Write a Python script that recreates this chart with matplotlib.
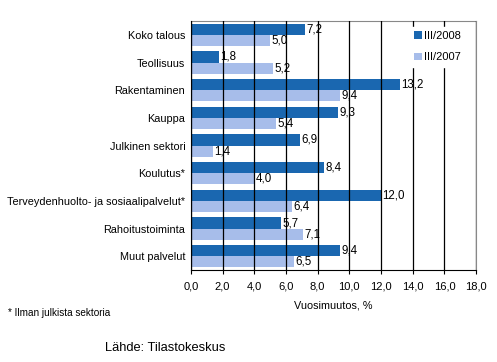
import numpy as np
import matplotlib.pyplot as plt
from matplotlib.patches import Patch

plt.rcParams['font.family'] = ['Liberation Sans', 'DejaVu Sans']

categories = ["Koko talous", "Teollisuus", "Rakentaminen", "Kauppa", "Julkinen sektori",
              "Koulutus*", "Terveydenhuolto- ja sosiaalipalvelut*", "Rahoitustoiminta", "Muut palvelut"]
v2008 = [7.2, 1.8, 13.2, 9.3, 6.9, 8.4, 12.0, 5.7, 9.4]
v2007 = [5.0, 5.2, 9.4, 5.4, 1.4, 4.0, 6.4, 7.1, 6.5]
series_names = ["III/2008", "III/2007"]
xticks = np.arange(0, 18.1, 2)

dark = '#1a67b0'
light = '#a7bdea'

fig = plt.figure(figsize=(4.97, 3.62), dpi=100)
ax = fig.add_axes([0.384, 0.254, 0.574, 0.688])

y = np.arange(len(categories))
h = 0.4
ax.barh(y - h / 2, v2008, height=h, color=dark, zorder=1)
ax.barh(y + h / 2, v2007, height=h, color=light, zorder=1)

fmt = lambda v: f"{v:.1f}".replace('.', ',')
for yi, a, b in zip(y, v2008, v2007):
    ax.text(a + 0.08, yi - h / 2, fmt(a), va='center', ha='left', fontsize=8.3, zorder=1)
    ax.text(b + 0.08, yi + h / 2, fmt(b), va='center', ha='left', fontsize=8.3, zorder=1)

ax.set_xlim(0, 18)
ax.set_ylim(len(categories) - 0.5, -0.5)
ax.set_xticks(xticks)
ax.set_xticklabels([fmt(t) for t in xticks], fontsize=8)
ax.set_yticks(y)
ax.set_yticklabels(categories, fontsize=7.8)
ax.tick_params(axis='y', length=0, pad=4)
ax.tick_params(axis='x', length=3, width=0.8, direction='out', pad=5)
ax.xaxis.grid(True, color='black', linewidth=0.9, zorder=2)
ax.set_axisbelow(False)
ax.spines['left'].set_color('black')
ax.spines['bottom'].set_color('black')
ax.spines['top'].set_color('#888888')
ax.spines['right'].set_color('#888888')
ax.set_xlabel("Vuosimuutos, %", fontsize=7.8, labelpad=7)

handles = [Patch(facecolor=dark), Patch(facecolor=light)]
leg = ax.legend(handles, series_names, loc='upper right', bbox_to_anchor=(0.975, 0.99),
                frameon=True, fontsize=8, handlelength=0.7, handleheight=0.7,
                handletextpad=0.2, labelspacing=1.0, borderaxespad=0.3)
leg.get_frame().set_facecolor('white')
leg.get_frame().set_edgecolor('white')
leg.get_frame().set_alpha(1)
leg.set_zorder(3)

fig.text(0.016, 0.135, "* Ilman julkista sektoria", fontsize=7.2, va='center')
fig.text(0.212, 0.04, "Lähde: Tilastokeskus", fontsize=9.3, va='center')

fig.savefig('out.png', dpi=100)
